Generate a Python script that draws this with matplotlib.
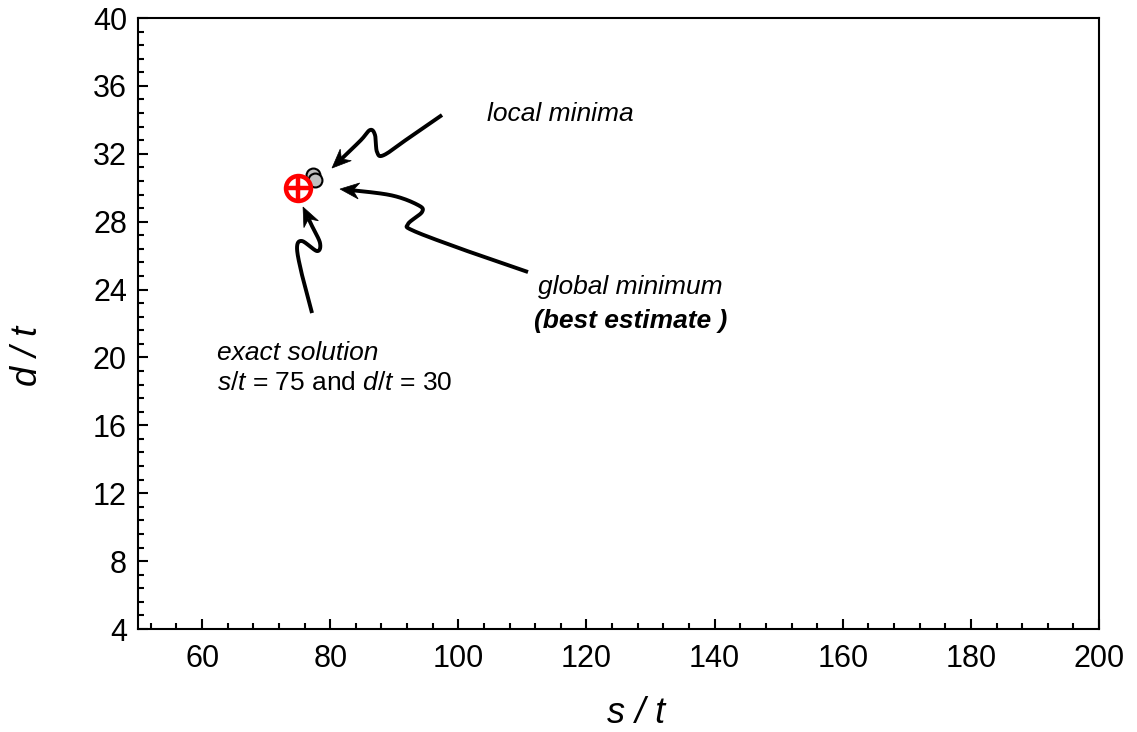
import numpy as np
import matplotlib
matplotlib.use("Agg")
import matplotlib.pyplot as plt
from matplotlib.patches import Polygon
from matplotlib.ticker import MultipleLocator

plt.rcParams["font.family"] = ["Liberation Sans", "DejaVu Sans"]
plt.rcParams["mathtext.fontset"] = "custom"
plt.rcParams["mathtext.rm"] = "Liberation Sans"
plt.rcParams["mathtext.it"] = "Liberation Sans:italic"
plt.rcParams["mathtext.bf"] = "Liberation Sans:bold"

# search results
local_s = [77.3]
local_d = [30.75]
global_s = [77.6]
global_d = [30.45]
exact_s = [75]
exact_d = [30]

x_ticks = [60, 80, 100, 120, 140, 160, 180, 200]
y_ticks = [4, 8, 12, 16, 20, 24, 28, 32, 36, 40]

W, H, DPI = 11.37, 7.32, 100
fig = plt.figure(figsize=(W, H), dpi=DPI)
ax = fig.add_axes([0.1214, 0.1407, 0.8452, 0.8347])

ax.plot(local_s, local_d, "o", ms=10, mfc="#c0c0c0", mec="black", mew=1.5, zorder=4)
ax.plot(global_s, global_d, "o", ms=10, mfc="#c0c0c0", mec="black", mew=1.5, zorder=5)
ax.plot(exact_s, exact_d, "o", ms=18, mfc="white", mec="red", mew=3.2, zorder=6)
ax.plot(exact_s, exact_d, "+", ms=18, mec="red", mew=3.2, zorder=7)

ax.set_xlim(50, 200)
ax.set_ylim(4, 40)
ax.set_xticks(x_ticks)
ax.set_yticks(y_ticks)
ax.xaxis.set_minor_locator(MultipleLocator(4))
ax.yaxis.set_minor_locator(MultipleLocator(0.8))
ax.tick_params(which="both", direction="in", top=False, right=False, width=1.5, labelsize=22)
ax.tick_params(which="major", length=7, pad=8)
ax.tick_params(axis="x", which="major", pad=11)
ax.tick_params(which="minor", length=4.5)
for sp in ax.spines.values():
    sp.set_linewidth(1.5)

ax.set_xlabel("s / t", fontsize=26, style="italic", va="center")
ax.set_ylabel("d / t", fontsize=26, style="italic", va="center")
ax.xaxis.set_label_coords(0.518, -0.1375)
ax.yaxis.set_label_coords(-0.1155, 0.447)


def px_to_data(pts):
    # figure pixel (top-left origin) -> data coordinates
    out = []
    for px, py in pts:
        out.append((50 + (px - 138) / 6.407, 40 - (py - 18) / 16.97))
    return np.array(out)


def smooth(pts, n=24):
    pts = np.asarray(pts, float)
    p = np.vstack([pts[0], pts, pts[-1]])
    res = []
    for i in range(1, len(p) - 2):
        p0, p1, p2, p3 = p[i - 1], p[i], p[i + 1], p[i + 2]
        for t in np.linspace(0, 1, n, endpoint=False):
            t2, t3 = t * t, t * t * t
            res.append(0.5 * ((2 * p1) + (-p0 + p2) * t + (2 * p0 - 5 * p1 + 4 * p2 - p3) * t2
                              + (-p0 + 3 * p1 - 3 * p2 + p3) * t3))
    res.append(pts[-1])
    return np.array(res)


def squiggle(pix_pts, head_len=19, head_half=8, notch=13):
    data = smooth(px_to_data(pix_pts))
    disp = ax.transData.transform(data)
    tip = disp[-1]
    d = np.linalg.norm(disp - tip, axis=1)
    back = disp[np.argmax(d < head_len)] if np.any(d < head_len) else disp[-2]
    u = tip - back
    u /= np.linalg.norm(u)
    nrm = np.array([-u[1], u[0]])
    base = tip - u * head_len
    notch_pt = tip - u * notch
    head = np.array([tip, base + nrm * head_half, notch_pt, base - nrm * head_half])
    keep = d > notch
    line = np.vstack([disp[keep], notch_pt])
    inv = ax.transData.inverted()
    ax.plot(*inv.transform(line).T, color="black", lw=2.8, solid_capstyle="butt", zorder=3)
    ax.add_patch(Polygon(inv.transform(head), closed=True, fc="black", ec="black",
                         lw=0.5, zorder=3))


squiggle([(442, 115), (410, 137), (384, 155), (377, 152), (375, 135), (370, 130),
          (360, 141), (332, 168)])
squiggle([(528, 272), (470, 252), (414, 231), (408, 224), (422, 212), (418, 205),
          (390, 195), (340, 189)])
squiggle([(312, 313), (302, 275), (297, 248), (302, 241), (317, 251), (320, 243),
          (312, 226), (303, 207)])

fs = 19
ax.text(104.5, 33.93, "local minima", fontsize=fs, style="italic", va="baseline", ha="left")
ax.text(112.4, 23.74, "global minimum", fontsize=fs, style="italic", va="baseline", ha="left")
ax.text(111.8, 21.73, "(best estimate )", fontsize=fs, style="italic", weight="bold",
        va="baseline", ha="left")
ax.text(62.3, 19.85, "exact solution", fontsize=fs, style="italic", va="baseline", ha="left")
ax.text(62.3, 18.08, "$s$/$t$ = 75 and $d$/$t$ = 30", fontsize=fs, va="baseline", ha="left")

fig.savefig("out.png", dpi=DPI)
